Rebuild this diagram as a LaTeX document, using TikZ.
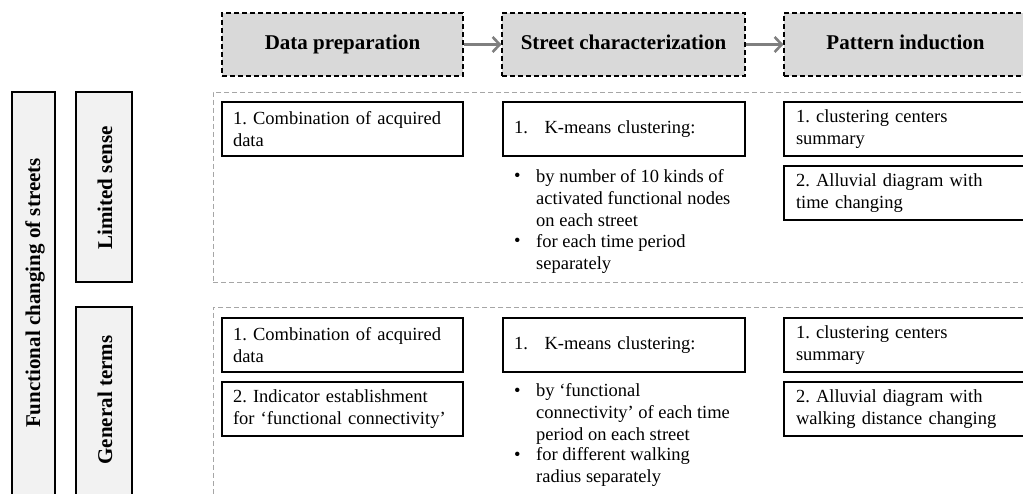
\documentclass[tikz,border=0pt]{standalone}
\usepackage{fontspec}
\setmainfont{Liberation Serif}
\usetikzlibrary{arrows.meta}
\definecolor{hdrfill}{HTML}{D9D9D9}
\definecolor{sidefill}{HTML}{F2F2F2}
\definecolor{grpline}{HTML}{A6A6A6}
\definecolor{arrgray}{HTML}{7F7F7F}
\frenchspacing
\begin{document}
\begin{tikzpicture}[x=1pt,y=-1pt,
  hdr/.style={draw=black, fill=hdrfill, dashed, dash pattern=on 5pt off 3pt, line width=1.1pt,
    font=\fontsize{21}{24}\selectfont\bfseries, inner sep=0pt, minimum height=63pt,
    text height=14pt, text depth=4pt},
  side/.style={draw=black, fill=sidefill, line width=1.2pt, inner sep=0pt},
  sidetext/.style={font=\fontsize{21}{24}\selectfont\bfseries, rotate=90, inner sep=0pt},
  grp/.style={draw=grpline, dashed, dash pattern=on 5pt off 3pt, line width=0.8pt, inner sep=0pt},
  box/.style={draw=black, line width=1.2pt, align=left, inner xsep=11pt, inner ysep=0pt,
    minimum height=54pt, font=\fontsize{18.5}{22}\selectfont},
  bdot/.style={font=\fontsize{18.5}{22}\selectfont, inner sep=0pt, anchor=base west},
  blt/.style={font=\fontsize{18.5}{22}\selectfont, inner sep=0pt, anchor=north west, align=left},
  flow/.style={draw=arrgray, line width=3pt, -{Straight Barb[length=7pt,width=15pt,line width=2.6pt]}}
]
\clip (0,0) rectangle (1023,494);
\fill[white] (0,0) rectangle (1023,494);

% headers
\node[hdr, minimum width=241pt] (hd) at (342.5,44.5) {Data preparation};
\node[hdr, minimum width=243pt] (hs) at (623.5,44.5) {Street characterization};
\node[hdr, minimum width=243pt] (hp) at (905.5,44.5) {Pattern induction};
\draw[flow] (hd.east) -- (hs.west);
\draw[flow] (hs.east) -- (hp.west);

% left side boxes
\node[side, minimum width=43pt, minimum height=448pt] (fc) at (33.5,316) {};
\node[sidetext] (fct) at (35,293) {Functional changing of streets};
\node[side, minimum width=56pt, minimum height=190pt] (ls) at (104,187) {};
\node[sidetext] (lst) at (105,188) {Limited sense};
\node[side, minimum width=56pt, minimum height=194pt] (gt) at (104,404) {};
\node[sidetext] (gtt) at (105,400) {General terms};

% group frames
\node[grp, minimum width=817pt, minimum height=190pt] (g1) at (621.5,187) {};
\node[grp, minimum width=817pt, minimum height=240pt] (g2) at (621.5,427) {};

% group 1 boxes
\node[box, minimum width=241pt, text width=219pt] (d1) at (342.5,129) {1. Combination of acquired\\data};
\node[box, minimum width=242pt, text width=220pt] (s1) at (624,129) {1.\hspace{0.9em}K-means clustering:};
\node[box, minimum width=243pt, text width=219pt] (p1) at (905.5,129) {1. clustering centers\\summary};
\node[box, minimum width=243pt, text width=219pt] (p2) at (905.5,193) {2. Alluvial diagram with\\time changing};
\node[bdot] (b1a) at (514,182) {\textbullet};
\node[blt] (t1a) at (536,169) {by number of 10 kinds of\\activated functional nodes\\on each street};
\node[bdot] (b1b) at (514,247) {\textbullet};
\node[blt] (t1b) at (536,234) {for each time period\\separately};

% group 2 boxes
\node[box, minimum width=241pt, text width=219pt] (d2) at (342.5,345) {1. Combination of acquired\\data};
\node[box, minimum width=241pt, text width=219pt] (d3) at (342.5,409) {2. Indicator establishment\\for ‘functional connectivity’};
\node[box, minimum width=242pt, text width=220pt] (s2) at (624,345) {1.\hspace{0.9em}K-means clustering:};
\node[box, minimum width=243pt, text width=219pt] (p3) at (905.5,345) {1. clustering centers\\summary};
\node[box, minimum width=243pt, text width=219pt] (p4) at (905.5,409) {2. Alluvial diagram with\\walking distance changing};
\node[bdot] (b2a) at (514,396) {\textbullet};
\node[blt] (t2a) at (536,383) {by ‘functional\\connectivity’ of each time\\period on each street};
\node[bdot] (b2b) at (514,460) {\textbullet};
\node[blt] (t2b) at (536,447) {for different walking\\radius separately};
\end{tikzpicture}
\end{document}
